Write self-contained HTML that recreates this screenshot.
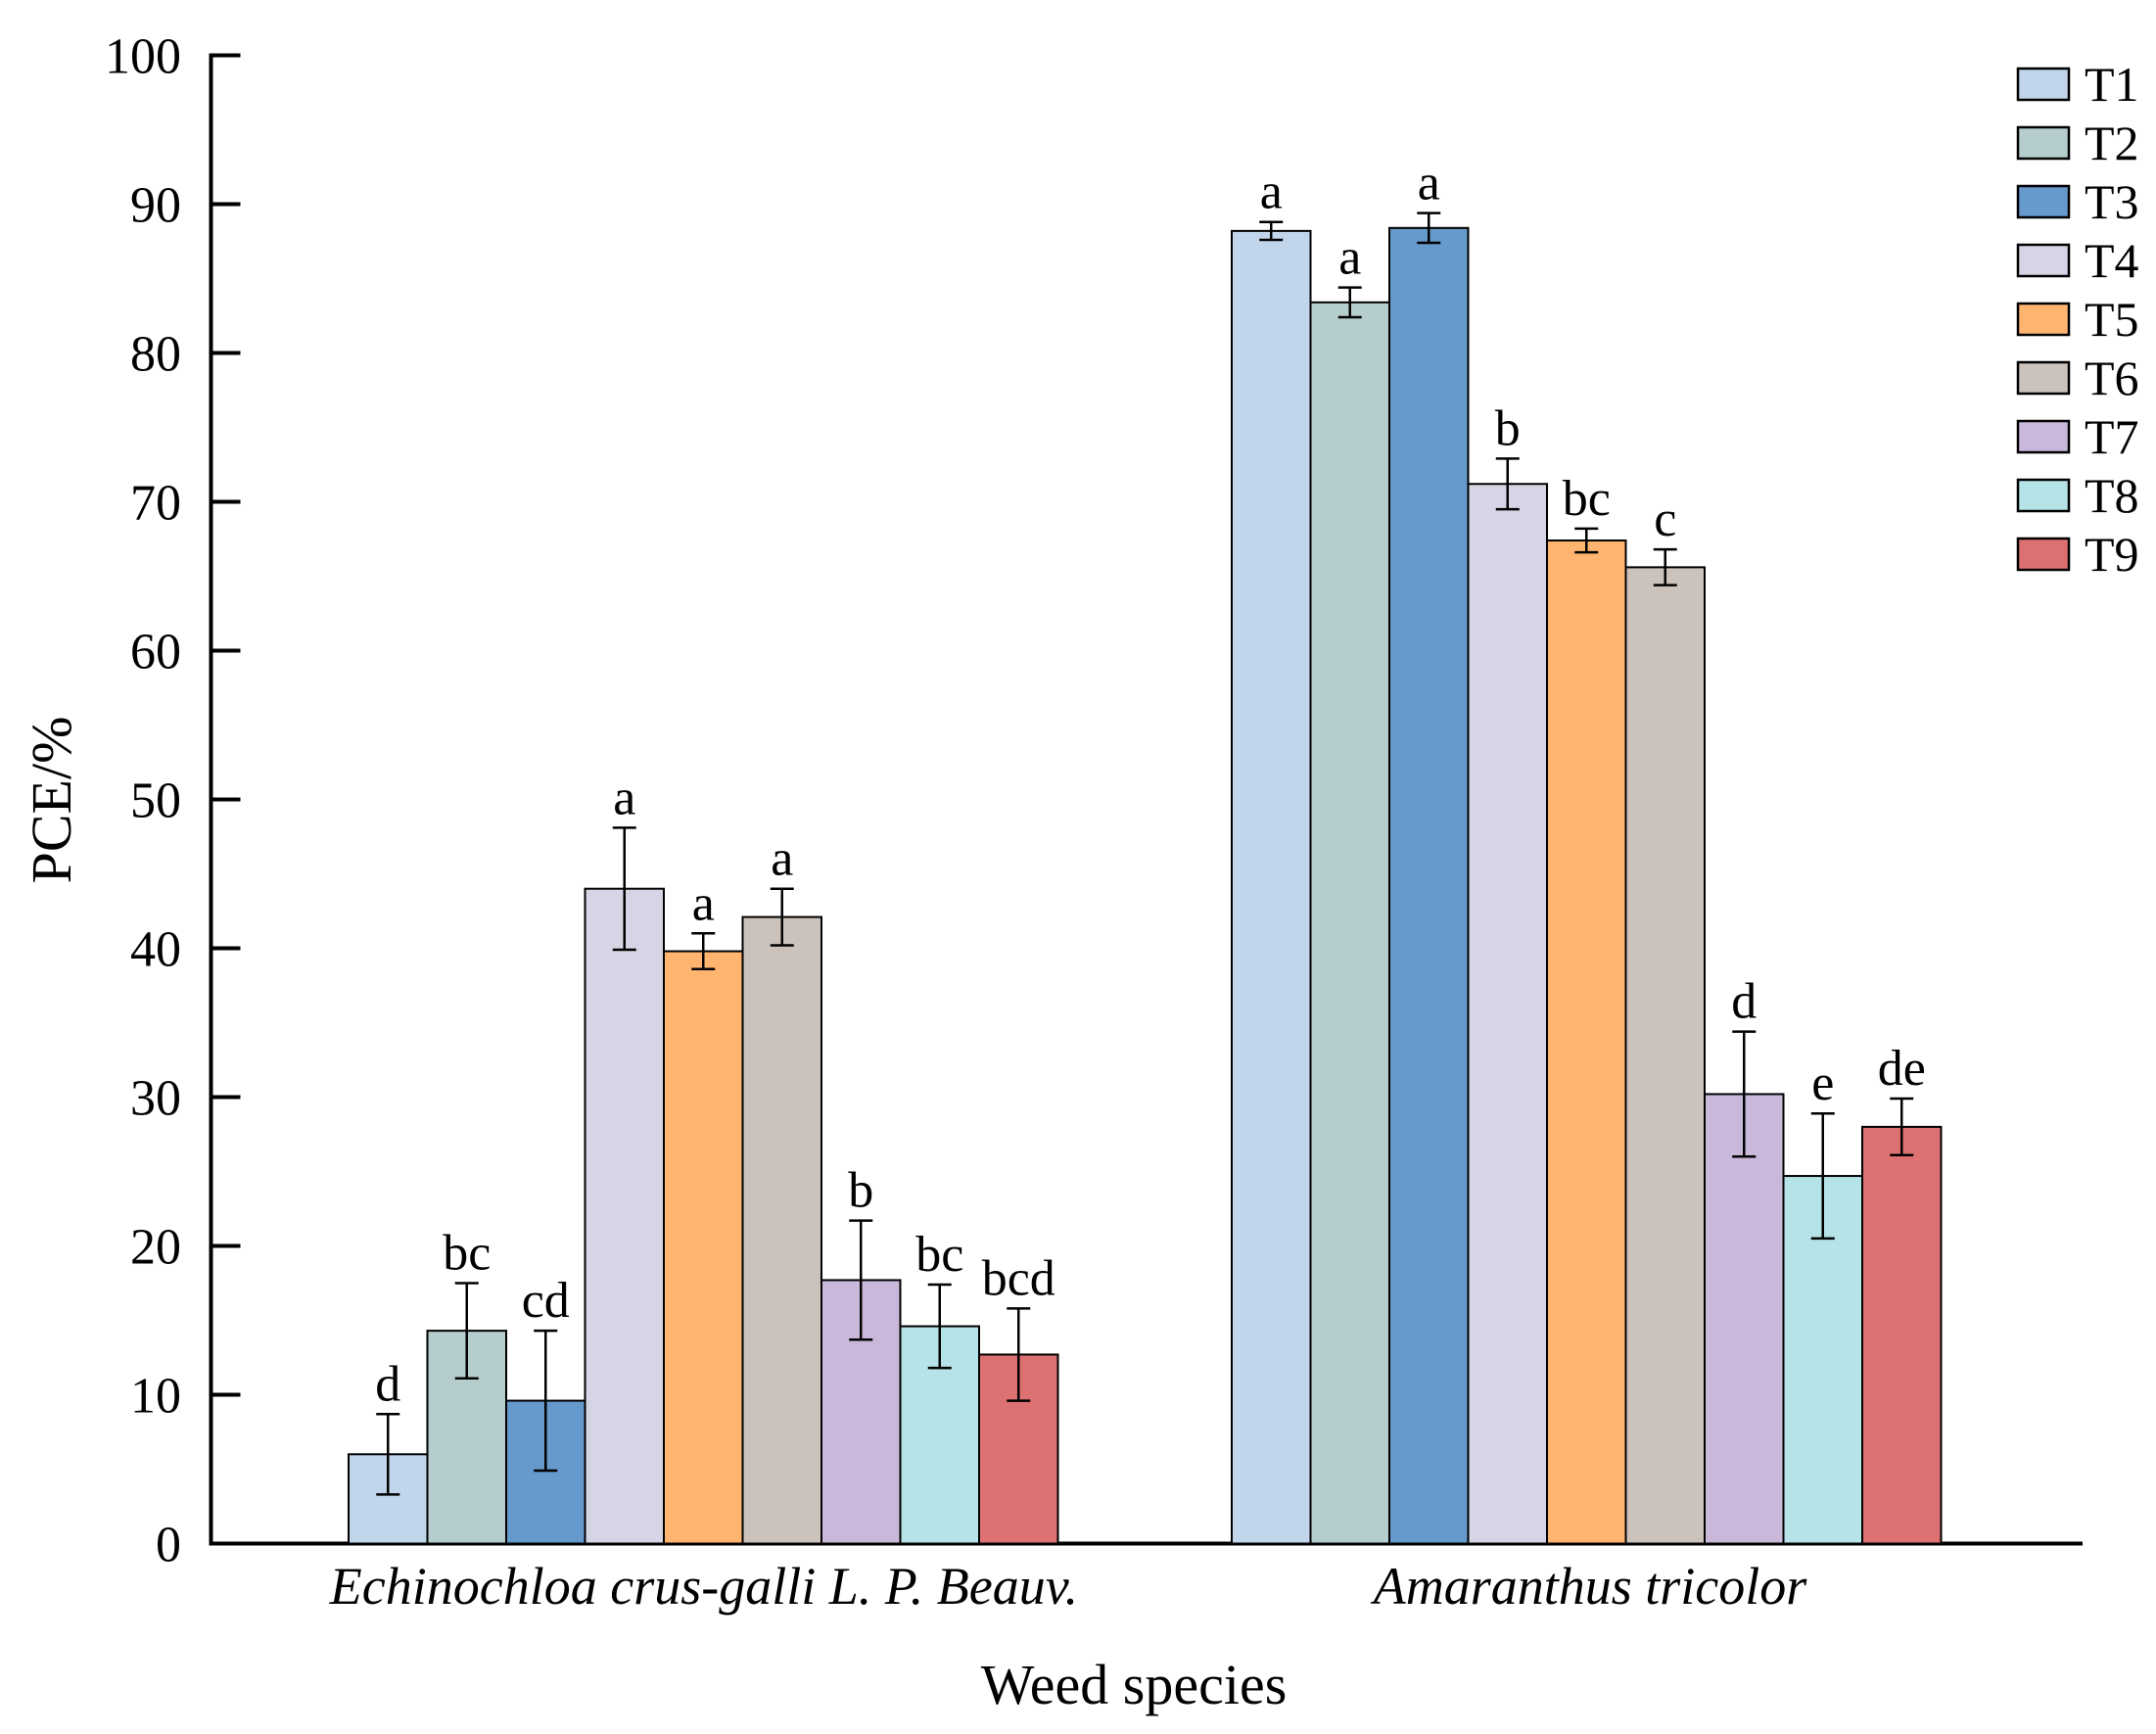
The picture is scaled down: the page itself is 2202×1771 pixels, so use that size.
<!DOCTYPE html>
<html><head><meta charset="utf-8"><style>
html,body{margin:0;padding:0;background:#fff}
svg{display:block;font-family:"Liberation Serif",serif}
</style></head><body>
<svg id="chart" width="2202" height="1771" viewBox="0 0 2202 1771">
<g id="axes"></g>
<g id="bars"></g>
<g id="legend"></g>
<text x="719" y="1638" font-size="54" font-style="italic" text-anchor="middle">Echinochloa crus-galli L. P. Beauv.</text>
<text x="1624" y="1638" font-size="54" font-style="italic" text-anchor="middle">Amaranthus tricolor</text>
<text x="1158" y="1740" font-size="58" text-anchor="middle">Weed species</text>
<text x="0" y="0" font-size="58" text-anchor="middle" transform="translate(72,817) rotate(-90)">PCE/%</text>
</svg>
<script>
const series = ['T1','T2','T3','T4','T5','T6','T7','T8','T9'];
const colors = ['#c2d6eb','#b5cdcc','#6699cc','#d5d5e5','#ffb570','#cbc2bb','#c9b8d9','#b5e3e8','#dd7070'];
const echValues = [6.0,14.3,9.6,44.0,39.8,42.1,17.7,14.6,12.7];
const echErrors = [2.7,3.2,4.7,4.1,1.2,1.9,4.0,2.8,3.1];
const echLetters = ['d','bc','cd','a','a','a','b','bc','bcd'];
const amaValues = [88.2,83.4,88.4,71.2,67.4,65.6,30.2,24.7,28.0];
const amaErrors = [0.6,1.0,1.0,1.7,0.8,1.2,4.2,4.2,1.9];
const amaLetters = ['a','a','a','b','bc','c','d','e','de'];
const yTicks = [0,10,20,30,40,50,60,70,80,90,100];

const NS='http://www.w3.org/2000/svg';
const x0=215.5, xEnd=2127, yBase=1576.5, yTop=56.5;
const y = v => yBase - (v/100)*(yBase-yTop);
const groupStarts=[356,1262-4], barW=80.5;
function mk(tag,attrs,parent){const e=document.createElementNS(NS,tag);for(const k in attrs)e.setAttribute(k,attrs[k]);parent.appendChild(e);return e;}
const axes=document.getElementById('axes');
let e=mk('line',{x1:x0,y1:yTop-2,x2:x0,y2:yBase+1.5,stroke:'#000','stroke-width':4},axes);


e=mk('line',{x1:x0-2,y1:yBase,x2:xEnd,y2:yBase,stroke:'#000','stroke-width':4},axes);


yTicks.forEach(t=>{
  const tk=mk('line',{x1:x0,y1:y(t),x2:x0+30,y2:y(t),stroke:'#000','stroke-width':4},axes);
  
  
  const lb=mk('text',{x:185,y:y(t)+18,'font-size':52,'text-anchor':'end'},axes);
  lb.textContent=t;
  
  
});
const bars=document.getElementById('bars');
const groups=[[echValues,echErrors,echLetters,'ech'],[amaValues,amaErrors,amaLetters,'ama']];
groups.forEach((g,gi)=>{
  const [vals,errs,lets,key]=g;
  vals.forEach((v,i)=>{
    const bx=groupStarts[gi]+i*barW, cx=bx+barW/2;
    const r=mk('rect',{x:bx,y:y(v),width:barW,height:yBase-y(v),fill:colors[i],stroke:'#000','stroke-width':2},bars);
    
    
    const hi=y(v+errs[i]), lo=y(v-errs[i]);
    const eb=mk('path',{d:`M${cx},${hi}V${lo}M${cx-12},${hi}H${cx+12}M${cx-12},${lo}H${cx+12}`,stroke:'#000','stroke-width':2.5,fill:'none'},bars);
    
    
    const lt=mk('text',{x:cx,y:hi-14,'font-size':52,'text-anchor':'middle'},bars);
    lt.textContent=lets[i];
    
    
  });
});
const legend=document.getElementById('legend');
series.forEach((s,i)=>{
  const cy=86+i*60;
  const b=mk('rect',{x:2061,y:cy-16,width:52,height:32,fill:colors[i],stroke:'#000','stroke-width':2.5},legend);
  
  
  const t=mk('text',{x:2129,y:cy+17,'font-size':50},legend);
  t.textContent=s;
  
  
});
</script>
</body></html>
